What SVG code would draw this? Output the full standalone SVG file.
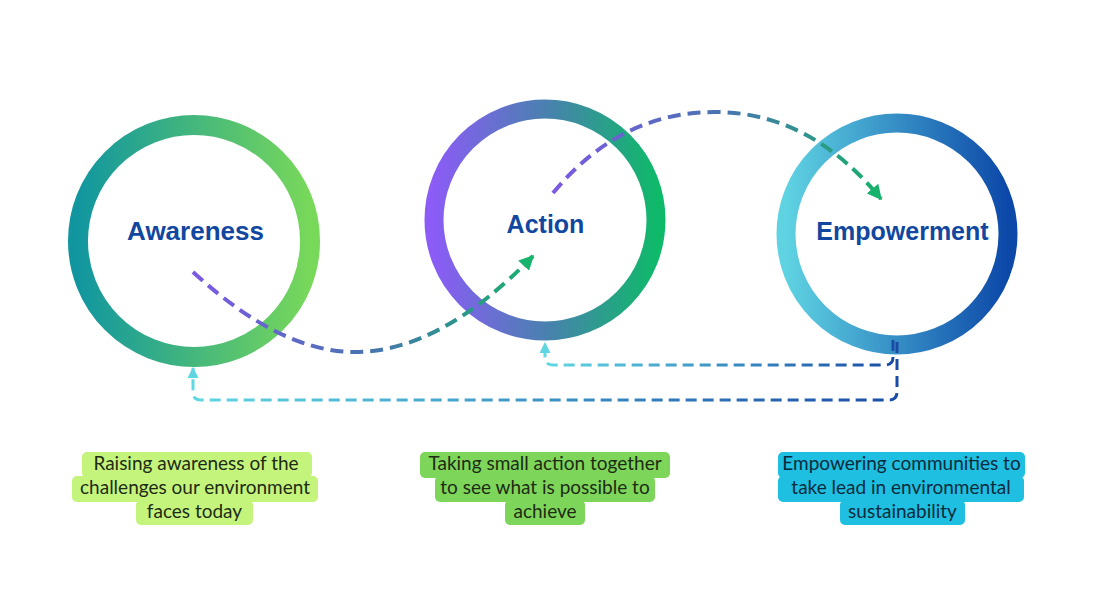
<svg xmlns="http://www.w3.org/2000/svg" width="1107" height="599" viewBox="0 0 1107 599">
<style>
.lbl{font-family:"Liberation Sans",Arial,sans-serif;font-weight:bold;font-size:25px;fill:#11479f;text-anchor:middle}
.desc{font-family:Lato,"Open Sans",sans-serif;font-size:19px;text-anchor:middle}
.d1{fill:#1e2b14}
.d3{fill:#0b2b3c}
.curve{fill:none;stroke-width:4;stroke-dasharray:13 7;stroke-linecap:butt}
.fb{fill:none;stroke-width:3;stroke-dasharray:11 6}
.ring{fill:none}
</style>
<defs>
<linearGradient id="gAw" x1="0" y1="0" x2="1" y2="0"><stop offset="0" stop-color="#11969f"/><stop offset="1" stop-color="#78d85a"/></linearGradient>
<linearGradient id="gAc" x1="0" y1="0" x2="1" y2="0"><stop offset="0" stop-color="#8b5cf6"/><stop offset="0.5" stop-color="#4a80b0"/><stop offset="1" stop-color="#0fb96a"/></linearGradient>
<linearGradient id="gEm" x1="0" y1="0" x2="1" y2="0"><stop offset="0" stop-color="#5fd3e2"/><stop offset="1" stop-color="#0c48a8"/></linearGradient>
<linearGradient id="gC" x1="0" y1="0" x2="1" y2="0"><stop offset="0" stop-color="#7c5ae2"/><stop offset="0.5" stop-color="#4a72b2"/><stop offset="1" stop-color="#17b06c"/></linearGradient>
<linearGradient id="gF" x1="0" y1="0" x2="1" y2="0"><stop offset="0" stop-color="#5fd8e2"/><stop offset="1" stop-color="#1a4ca6"/></linearGradient>
<marker id="arG" viewBox="0 0 10 10" refX="9" refY="5" markerWidth="15" markerHeight="15" markerUnits="userSpaceOnUse" orient="auto"><path d="M0,0 L10,5 L0,10 z" fill="#17b36b"/></marker>
<marker id="arC" viewBox="0 0 10 10" refX="9" refY="5" markerWidth="11" markerHeight="11" markerUnits="userSpaceOnUse" orient="auto"><path d="M0,0 L10,5 L0,10 z" fill="#5dd6e2"/></marker>
</defs>

<g id="awareness">
<circle class="ring" cx="194" cy="241" r="116" stroke="url(#gAw)" stroke-width="20"/>
<text class="lbl" x="195.5" y="240" style="font-size:26px">Awareness</text>
</g>
<g id="action">
<circle class="ring" cx="545" cy="220" r="111" stroke="url(#gAc)" stroke-width="19"/>
<text class="lbl" x="545.5" y="233">Action</text>
</g>
<g id="empowerment">
<circle class="ring" cx="897" cy="234" r="111" stroke="url(#gEm)" stroke-width="19"/>
<text class="lbl" x="902.5" y="240">Empowerment</text>
</g>

<g id="connectors">
<path class="curve" stroke="url(#gC)" d="M193,272 Q280,352 355,352 Q440,352 533,256" marker-end="url(#arG)"/>
<path class="curve" stroke="url(#gC)" d="M553,193 Q620,112 715,112 Q810,112 881,199" marker-end="url(#arG)"/>
<path class="fb" stroke="url(#gF)" d="M893,340 L893,357 Q893,365 885,365 L553,365 Q545,365 545,357 L545,343" marker-end="url(#arC)"/>
<path class="fb" stroke="url(#gF)" d="M897,342 L897,392 Q897,400 889,400 L201,400 Q193,400 193,392 L193,368" marker-end="url(#arC)"/>
</g>

<g id="desc-awareness">
<g fill="#c4f47c">
<rect x="82" y="452" width="230" height="26" rx="5"/>
<rect x="72" y="476" width="246" height="26" rx="5"/>
<rect x="136" y="500" width="117" height="25" rx="5"/>
</g>
<text class="desc d1" x="196" y="470">Raising awareness of the</text>
<text class="desc d1" x="195" y="494">challenges our environment</text>
<text class="desc d1" x="194.5" y="518">faces today</text>
</g>
<g id="desc-action">
<g fill="#7dd65a">
<rect x="420" y="452" width="250" height="26" rx="5"/>
<rect x="435" y="476" width="220" height="26" rx="5"/>
<rect x="505" y="500" width="80" height="25" rx="5"/>
</g>
<text class="desc d1" x="545" y="470">Taking small action together</text>
<text class="desc d1" x="545" y="494">to see what is possible to</text>
<text class="desc d1" x="545" y="518">achieve</text>
</g>
<g id="desc-empowerment">
<g fill="#1ebfe0">
<rect x="778" y="452" width="247" height="26" rx="5"/>
<rect x="778" y="476" width="246" height="26" rx="5"/>
<rect x="840" y="500" width="125" height="25" rx="5"/>
</g>
<text class="desc d3" x="901.5" y="470">Empowering communities to</text>
<text class="desc d3" x="901" y="494">take lead in environmental</text>
<text class="desc d3" x="902.5" y="518">sustainability</text>
</g>
</svg>
